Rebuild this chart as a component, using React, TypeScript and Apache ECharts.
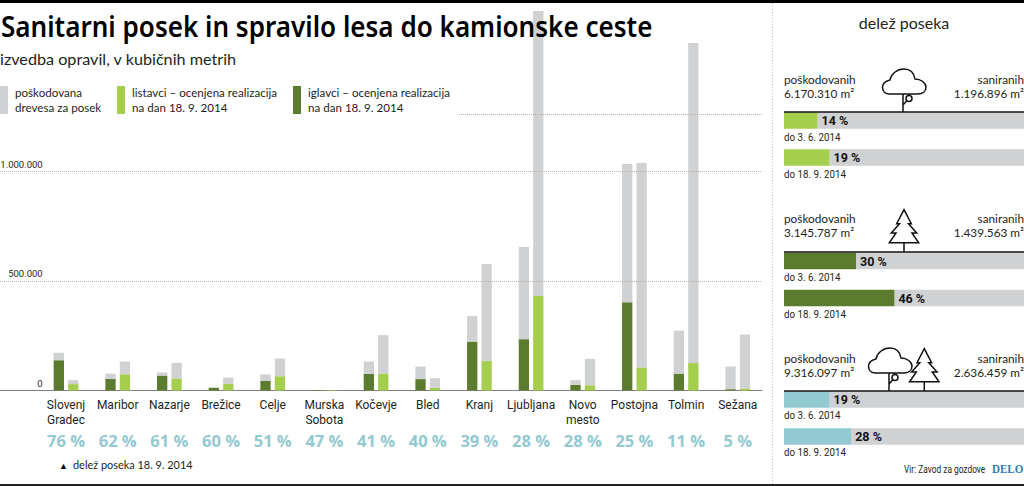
import React, { useEffect, useRef } from "react";
import * as echarts from "echarts";

const NARROW = "'Roboto', sans-serif";
const SANS = "'Lato', 'Noto Sans', sans-serif";
const INK = "#231f20";
const GREY = "#cfd1d3";
const LIGHT = "#a6ce4e";
const DARK = "#5b7b2f";
const TEAL = "#93c9d1";

const categories = ["Slovenj\nGradec", "Maribor", "Nazarje", "Brežice", "Celje", "Murska\nSobota", "Kočevje", "Bled", "Kranj", "Ljubljana", "Novo\nmesto", "Postojna", "Tolmin", "Sežana"];
const shareLabels = ["76 %", "62 %", "61 %", "60 %", "51 %", "47 %", "41 %", "40 %", "39 %", "28 %", "28 %", "25 %", "11 %", "5 %"];
const conifersDone = [138000, 53000, 68000, 12000, 44000, 2000, 76000, 52000, 223000, 234000, 26000, 402000, 77000, 6000];
const conifersDamaged = [172000, 77000, 82000, 14000, 73000, 2000, 132000, 109000, 339000, 654000, 47000, 1032000, 273000, 109000];
const broadleavesDone = [29000, 74000, 55000, 30000, 65000, 2000, 77000, 12000, 134000, 431000, 24000, 105000, 125000, 9000];
const broadleavesDamaged = [47000, 132000, 126000, 59000, 146000, 2000, 252000, 56000, 576000, 1729000, 144000, 1036000, 1583000, 255000];
const yTickLabels = ["0", "500.000", "1.000.000"];

const GREY_NAME = "poškodovana\ndrevesa za posek";
const LIGHT_NAME = "listavci – ocenjena realizacija\nna dan 18. 9. 2014";
const DARK_NAME = "iglavci – ocenjena realizacija\nna dan 18. 9. 2014";

const panelDates = ["do 3. 6. 2014", "do 18. 9. 2014"];
const broadleafShares = [14, 19];
const coniferShares = [30, 46];
const allShares = [19, 28];
const damagedAreas = ["6.170.310 m²", "3.145.787 m²", "9.316.097 m²"];
const salvagedAreas = ["1.196.896 m²", "1.439.563 m²", "2.636.459 m²"];

const CLOUD = "M -14 -18 C -19 -18 -20.5 -22 -20.5 -25 C -20.5 -29 -17 -31 -13 -32 C -12 -38 -6 -43 1 -43 C 7 -43 11 -39 12 -33 C 18 -33 23 -29 23 -25 C 23 -20 19 -18 15 -18 Z M 0 0 L 0 -18 M 0 -7 L 3.6 -11 M 9 -13.5 A 3 3 0 1 1 3 -13.5 A 3 3 0 1 1 9 -13.5 Z";
const FIR = "M 0 -42.3 L 7.3 -28.3 L 4.5 -28.3 L 12.7 -19 L 8 -19 L 14.7 -9.3 L -14.7 -9.3 L -8 -19 L -12.7 -19 L -4.5 -28.3 L -7.3 -28.3 Z M 0 -9.3 L 0 0";
echarts.graphic.registerShape("cloudTree", echarts.graphic.extendPath(CLOUD as any, {}) as any);
echarts.graphic.registerShape("firTree", echarts.graphic.extendPath(FIR as any, {}) as any);

const remainder = (total: number[], part: number[]) => total.map((t, i) => t - part[i]);

function App() {
  const ref = useRef<HTMLDivElement>(null);
  useEffect(() => {
    document.body.style.margin = "0";
    const chart = echarts.init(ref.current!, undefined, { renderer: "svg" });

    const BASE = 390.5;
    const panels = [
      { shares: broadleafShares, color: LIGHT, top: 102, text: 79, line: 112, dateY: [137, 174] },
      { shares: coniferShares, color: DARK, top: 242.5, text: 218, line: 252, dateY: [277, 314] },
      { shares: allShares, color: TEAL, top: 381, text: 358, line: 391, dateY: [415, 452] },
    ];

    const text = (x: number, y: number, t: string, o: any = {}, scaleX = 1) => ({
      type: "text", x, y, z: 20, scaleX,
      style: { text: t, fill: INK, font: `12px ${SANS}`, textVerticalAlign: "middle", textAlign: "left", ...o },
    });

    const graphic: any[] = [
      { type: "rect", shape: { x: 0, y: 0, width: 1024, height: 3 }, style: { fill: "#000" }, z: 20 },
      { type: "rect", shape: { x: 0, y: 484, width: 1024, height: 2 }, style: { fill: "#222" }, z: 20 },
      { type: "line", shape: { x1: 772.5, y1: 3, x2: 772.5, y2: 484 }, style: { stroke: "#bbb", lineWidth: 1, lineDash: [1, 2] }, z: 1 },
      text(1, 26, "Sanitarni posek in spravilo lesa do kamionske ceste", { font: `600 28.5px 'Noto Sans', sans-serif`, fill: "#000" }, 0.915),
      text(0, 58, "izvedba opravil, v kubičnih metrih", { font: `16.2px ${SANS}` }),
      text(59, 465, "▲", { font: `9px ${SANS}`, fill: "#000" }),
      text(73, 464, "delež poseka 18. 9. 2014", { font: `12px ${SANS}` }, 0.91),
      text(904, 22, "delež poseka", { font: `16px ${SANS}`, textAlign: "center" }),
      text(904, 469, "Vir: Zavod za gozdove", { font: `11px ${NARROW}` }, 0.76),
      text(992, 469, "DELO", { font: `bold 13.5px 'Liberation Serif', serif`, fill: "#2f7fb0" }, 0.82),
    ];
    panels.forEach((p, i) => {
      graphic.push(
        text(784, p.text, "poškodovanih", { font: `11.8px ${SANS}` }),
        text(784, p.text + 14, damagedAreas[i], { font: `11.8px ${SANS}` }),
        text(1024, p.text, "saniranih", { font: `11.8px ${SANS}`, textAlign: "right" }),
        text(1024, p.text + 14, salvagedAreas[i], { font: `11.8px ${SANS}`, textAlign: "right" }),
        { type: "line", shape: { x1: 784, y1: p.line, x2: 1024, y2: p.line }, style: { stroke: "#111", lineWidth: 1.5 }, z: 15 },
        text(784, p.dateY[0], panelDates[0], { font: `11.5px ${NARROW}` }, 0.85),
        text(784, p.dateY[1], panelDates[1], { font: `11.5px ${NARROW}` }, 0.85),
      );
    });
    const tree = { fill: "none", stroke: "#111", lineWidth: 1.5 };
    graphic.push(
      { type: "cloudTree", x: 903, y: 112, style: tree, z: 16 },
      { type: "firTree", x: 904, y: 252, style: tree, z: 16 },
      { type: "cloudTree", x: 889, y: 391, style: tree, z: 16 },
      { type: "firTree", x: 924.3, y: 391, style: tree, z: 16 },
    );

    const gridBase = { outerBoundsMode: "none", containLabel: false };
    const grid: any[] = [
      { ...gridBase, left: 0, width: 762, top: 6.4, height: BASE - 6.4 },
      { ...gridBase, left: 40.2, width: 723.4, top: 6.4, height: BASE - 6.4 },
      ...panels.map((p) => ({ ...gridBase, left: 784, width: 240, top: p.top, height: 74 })),
    ];
    const xAxis: any[] = [
      { type: "value", gridIndex: 0, min: 0, max: 762, axisLine: { show: true, onZero: false, lineStyle: { color: "#808080", width: 1 } }, axisTick: { show: false }, axisLabel: { show: false }, splitLine: { show: false } },
      { type: "category", gridIndex: 1, data: categories, axisLine: { show: false }, axisTick: { show: false }, axisLabel: { interval: 0, margin: 7, color: INK, fontFamily: NARROW, fontSize: 12, lineHeight: 15 } },
      { type: "category", gridIndex: 1, position: "bottom", data: shareLabels, axisLine: { show: false }, axisTick: { show: false }, axisLabel: { interval: 0, margin: 41, color: TEAL, fontFamily: "'Open Sans', sans-serif", fontWeight: "bold", fontSize: 16.5, lineHeight: 18 } },
      ...panels.map((_, i) => ({ type: "value", gridIndex: i + 2, min: 0, max: 100, show: false })),
    ];
    const yAxis: any[] = [
      { type: "value", gridIndex: 0, min: 0, max: 1750000, show: false },
      { type: "value", gridIndex: 1, min: 0, max: 1750000, interval: 500000, axisLine: { show: false }, axisTick: { show: false }, splitLine: { show: false },
        axisLabel: { margin: -2.5, color: INK, fontFamily: NARROW, fontSize: 9.5, verticalAlign: "bottom", padding: [0, 0, 2, 0], formatter: (v: number) => yTickLabels[v / 500000] ?? "" } },
      ...panels.map((_, i) => ({ type: "category", gridIndex: i + 2, data: panelDates, inverse: true, show: false })),
    ];

    const barBase = { type: "bar", xAxisIndex: 1, yAxisIndex: 1, barWidth: 10.3, barGap: "40%", z: 2 };
    const series: any[] = [
      { ...barBase, name: DARK_NAME, stack: "ig", data: conifersDone, itemStyle: { color: DARK } },
      { ...barBase, name: GREY_NAME, stack: "ig", data: remainder(conifersDamaged, conifersDone), itemStyle: { color: GREY } },
      { ...barBase, name: LIGHT_NAME, stack: "li", data: broadleavesDone, itemStyle: { color: LIGHT } },
      { ...barBase, name: GREY_NAME, stack: "li", data: remainder(broadleavesDamaged, broadleavesDone), itemStyle: { color: GREY } },
      {
        type: "line", xAxisIndex: 0, yAxisIndex: 0, data: [], silent: true, z: 5,
        markLine: {
          silent: true, symbol: "none", label: { show: false }, animation: false,
          lineStyle: { color: "#b4b4b4", type: "dotted", width: 1 },
          data: [
            [{ coord: [0, 500000] }, { coord: [762, 500000] }],
            [{ coord: [0, 1000000] }, { coord: [762, 1000000] }],
            [{ coord: [459, 1260000] }, { coord: [762, 1260000] }],
          ],
        },
      },
    ];
    panels.forEach((p, i) => {
      const common = { type: "bar", stack: `p${i}`, xAxisIndex: i + 3, yAxisIndex: i + 2, barWidth: 16.5 };
      series.push(
        { ...common, data: p.shares, itemStyle: { color: p.color }, z: 3,
          label: { show: true, position: "right", distance: 4, color: "#111", fontFamily: NARROW, fontWeight: "bold", fontSize: 12.5, formatter: "{c} %" } },
        { ...common, data: p.shares.map((s) => 100 - s), itemStyle: { color: GREY }, z: 2 },
      );
    });

    const legendBase = { orient: "horizontal", padding: 0, top: 85, itemWidth: 8, itemHeight: 28, icon: "rect", selectedMode: false,
      textStyle: { color: INK, fontFamily: SANS, fontSize: 11.6, lineHeight: 15, padding: [0, 0, 0, 2] } };

    chart.setOption({
      animation: false,
      backgroundColor: "#fff",
      legend: [
        { ...legendBase, left: 0, data: [GREY_NAME] },
        { ...legendBase, left: 117, data: [LIGHT_NAME] },
        { ...legendBase, left: 293, data: [DARK_NAME] },
      ],
      grid, xAxis, yAxis, series, graphic,
    });
    return () => chart.dispose();
  }, []);
  return <div ref={ref} style={{ width: 1024, height: 486 }} />;
}

export default App;
